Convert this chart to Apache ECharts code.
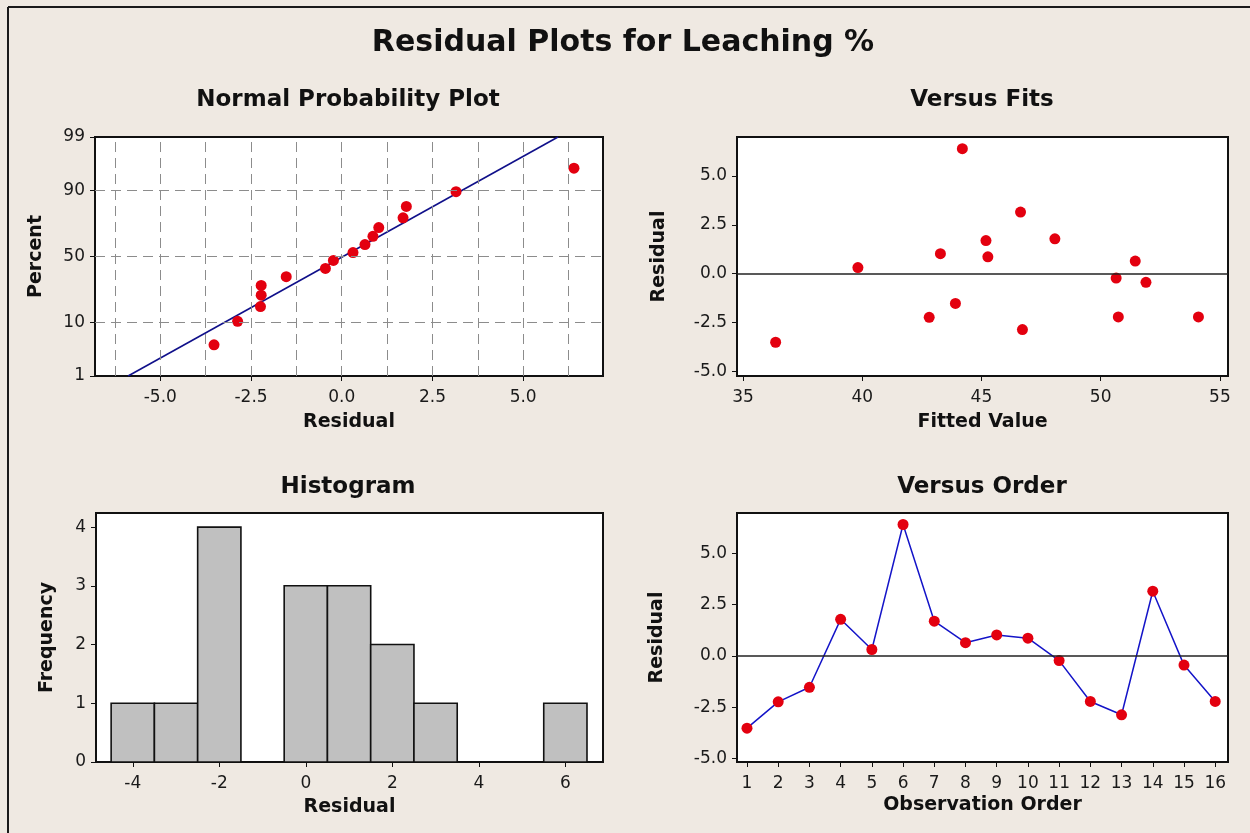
<!DOCTYPE html>
<html>
<head>
<meta charset="utf-8">
<script src="https://cdn.jsdelivr.net/npm/echarts@6/dist/echarts.min.js"></script>
<style>
  html, body { margin: 0; padding: 0; background: #EFE9E2; }
  #chart { width: 1250px; height: 833px; }
</style>
</head>
<body>
<div id="chart"></div>
<script>
// Residuals of the 16 runs, listed in observation order
const observationOrder = [1, 2, 3, 4, 5, 6, 7, 8, 9, 10, 11, 12, 13, 14, 15, 16];
const residuals = [-3.52, -2.24, -1.53, 1.78, 0.31, 6.40, 1.69, 0.64, 1.02, 0.86, -0.23, -2.22, -2.87, 3.15, -0.45, -2.22];
const fittedValues = [36.37, 42.81, 43.91, 48.08, 39.82, 44.20, 45.19, 51.45, 43.28, 45.27, 50.65, 50.74, 46.72, 46.64, 51.90, 54.10];

// Histogram: bin centres (width 1) and frequencies
const histBinCentres = [-4, -3, -2, -1, 0, 1, 2, 3, 4, 5, 6];
const histCounts = [1, 1, 4, 0, 3, 3, 2, 1, 0, 0, 1];

// Tick values
const percentTicks = [1, 10, 50, 90, 99];
const percentGrid = [10, 50, 90];
const npResidualTicks = [-5, -2.5, 0, 2.5, 5];
const npResidualGrid = [-6.25, -5, -3.75, -2.5, -1.25, 0, 1.25, 2.5, 3.75, 5, 6.25];
const fittedTicks = [35, 40, 45, 50, 55];
const residualTicks = [-5, -2.5, 0, 2.5, 5];
const histResidualTicks = [-4, -2, 0, 2, 4, 6];
const frequencyTicks = [0, 1, 2, 3, 4];
const orderTicks = observationOrder;

// Inverse standard normal CDF (Acklam's rational approximation)
function probit(p) {
  const a = [-3.969683028665376e+01, 2.209460984245205e+02, -2.759285104469687e+02, 1.383577518672690e+02, -3.066479806614716e+01, 2.506628277459239e+00];
  const b = [-5.447609879822406e+01, 1.615858368580409e+02, -1.556989798598866e+02, 6.680131188771972e+01, -1.328068155288572e+01];
  const c = [-7.784894002430293e-03, -3.223964580411365e-01, -2.400758277161838e+00, -2.549732539343734e+00, 4.374664141464968e+00, 2.938163982698783e+00];
  const d = [7.784695709041462e-03, 3.224671290700398e-01, 2.445134137142996e+00, 3.754408661907416e+00];
  const pl = 0.02425, ph = 1 - pl;
  let q, r;
  if (p < pl) {
    q = Math.sqrt(-2 * Math.log(p));
    return (((((c[0]*q + c[1])*q + c[2])*q + c[3])*q + c[4])*q + c[5]) / ((((d[0]*q + d[1])*q + d[2])*q + d[3])*q + 1);
  }
  if (p <= ph) {
    q = p - 0.5; r = q * q;
    return (((((a[0]*r + a[1])*r + a[2])*r + a[3])*r + a[4])*r + a[5])*q / (((((b[0]*r + b[1])*r + b[2])*r + b[3])*r + b[4])*r + 1);
  }
  q = Math.sqrt(-2 * Math.log(1 - p));
  return -(((((c[0]*q + c[1])*q + c[2])*q + c[3])*q + c[4])*q + c[5]) / ((((d[0]*q + d[1])*q + d[2])*q + d[3])*q + 1);
}

// Normal probability plot: sorted residuals against median-rank scores
const n = residuals.length;
const sortedResiduals = residuals.slice().sort((x, y) => x - y);
const npPoints = sortedResiduals.map((r, i) => [r, probit((i + 1 - 0.3) / (n + 0.4))]);
const mean = residuals.reduce((s, v) => s + v, 0) / n;
const sd = Math.sqrt(residuals.reduce((s, v) => s + (v - mean) * (v - mean), 0) / (n - 1));
const zLow = probit(0.01), zHigh = probit(0.99);
const npLine = [[mean + sd * zLow, zLow], [mean + sd * zHigh, zHigh]];

const FONT = 'DejaVu Sans';
const RED = '#E3000F';
const axisNameStyle = { color: '#111', fontFamily: FONT, fontSize: 19, fontWeight: 'bold' };

function valueAxis(opts) {
  return Object.assign({
    type: 'value',
    nameLocation: 'middle',
    nameTextStyle: axisNameStyle,
    axisLine: { show: false, onZero: false },
    axisTick: { show: true, inside: false, length: 5, lineStyle: { color: '#111', width: 1 }, customValues: opts.ticks },
    axisLabel: {
      color: '#1a1a1a', fontFamily: FONT, fontSize: 17, margin: opts.margin,
      customValues: opts.ticks, formatter: opts.fmt, showMinLabel: true, showMaxLabel: true
    },
    splitLine: { show: false }
  }, opts.extra);
}

const grids = [
  { left: 95, top: 137, width: 508, height: 239 },
  { left: 737, top: 137, width: 491, height: 239 },
  { left: 96, top: 513, width: 507, height: 249 },
  { left: 737, top: 513, width: 491, height: 249 }
].map(g => Object.assign(g, {
  show: true, backgroundColor: '#FFFFFF', borderColor: '#111', borderWidth: 2,
  containLabel: false, outerBoundsMode: 'none'
}));

const fmt1 = v => v.toFixed(1);
const fmt0 = v => String(Math.round(v));
const fmtPct = v => {
  const p = percentTicks.find(t => Math.abs(probit(t / 100) - v) < 1e-6);
  return p === undefined ? '' : String(p);
};

const XM = 13, YM = 10;

const option = {
  backgroundColor: '#EFE9E2',
  animation: false,
  grid: grids,
  xAxis: [
    valueAxis({ ticks: npResidualTicks, fmt: fmt1, margin: XM, extra: { gridIndex: 0, min: -6.8, max: 7.2, name: 'Residual', nameGap: 37 } }),
    valueAxis({ ticks: fittedTicks, fmt: fmt0, margin: XM, extra: { gridIndex: 1, min: 34.75, max: 55.34, name: 'Fitted Value', nameGap: 37 } }),
    valueAxis({ ticks: histResidualTicks, fmt: fmt0, margin: XM, extra: { gridIndex: 2, min: -4.85, max: 6.87, name: 'Residual', nameGap: 36 } }),
    valueAxis({ ticks: orderTicks, fmt: fmt0, margin: XM, extra: { gridIndex: 3, min: 0.68, max: 16.41, name: 'Observation Order', nameGap: 34 } })
  ],
  yAxis: [
    valueAxis({ ticks: percentTicks.map(p => probit(p / 100)), fmt: fmtPct, margin: YM, extra: { gridIndex: 0, min: zLow, max: zHigh, name: 'Percent', nameGap: 49 } }),
    valueAxis({ ticks: residualTicks, fmt: fmt1, margin: YM, extra: { gridIndex: 1, min: -5.25, max: 7.0, name: 'Residual', nameGap: 68 } }),
    valueAxis({ ticks: frequencyTicks, fmt: fmt0, margin: YM, extra: { gridIndex: 2, min: 0, max: 4.24, name: 'Frequency', nameGap: 39 } }),
    valueAxis({ ticks: residualTicks, fmt: fmt1, margin: YM, extra: { gridIndex: 3, min: -5.17, max: 6.96, name: 'Residual', nameGap: 70 } })
  ],
  series: [
    // Normal probability plot: dashed reference grid and fitted normal line
    {
      type: 'line', xAxisIndex: 0, yAxisIndex: 0, data: npLine, symbol: 'none', z: 2,
      lineStyle: { color: '#10108A', width: 1.6 },
      markLine: {
        silent: true, symbol: 'none', label: { show: false }, animation: false,
        lineStyle: { color: '#8C8C8C', width: 1, type: [10, 6] },
        data: npResidualGrid.map(v => ({ xAxis: v })).concat(percentGrid.map(p => ({ yAxis: probit(p / 100) })))
      }
    },
    {
      type: 'scatter', xAxisIndex: 0, yAxisIndex: 0, data: npPoints, z: 3,
      symbol: 'circle', symbolSize: 11, itemStyle: { color: RED, opacity: 1 }
    },
    // Versus fits
    {
      type: 'scatter', xAxisIndex: 1, yAxisIndex: 1, z: 3,
      data: fittedValues.map((f, i) => [f, residuals[i]]),
      symbol: 'circle', symbolSize: 11, itemStyle: { color: RED, opacity: 1 },
      markLine: {
        silent: true, symbol: 'none', label: { show: false }, animation: false,
        lineStyle: { color: '#222', width: 1.5, type: 'solid' }, data: [{ yAxis: 0 }]
      }
    },
    // Histogram of residuals
    {
      type: 'custom', xAxisIndex: 2, yAxisIndex: 2,
      data: histBinCentres.map((c, i) => [c, histCounts[i]]),
      encode: { x: 0, y: 1 },
      renderItem(params, api) {
        const c = api.value(0), cnt = api.value(1);
        const p0 = api.coord([c - 0.5, cnt]);
        const p1 = api.coord([c + 0.5, 0]);
        return {
          type: 'rect',
          shape: { x: p0[0], y: p0[1], width: p1[0] - p0[0], height: p1[1] - p0[1] },
          style: { fill: '#C0C0C0', stroke: '#111', lineWidth: 1.6 }
        };
      }
    },
    // Versus order
    {
      type: 'line', xAxisIndex: 3, yAxisIndex: 3, z: 3,
      data: observationOrder.map((o, i) => [o, residuals[i]]),
      symbol: 'circle', symbolSize: 11, showAllSymbol: true,
      lineStyle: { color: '#1414C8', width: 1.5 },
      itemStyle: { color: RED, opacity: 1 },
      markLine: {
        silent: true, symbol: 'none', label: { show: false }, animation: false,
        lineStyle: { color: '#222', width: 1.5, type: 'solid' }, data: [{ yAxis: 0 }]
      }
    }
  ],
  graphic: [
    { type: 'line', shape: { x1: 8, y1: 7, x2: 1250, y2: 7 }, style: { stroke: '#1a1a1a', lineWidth: 2 } },
    { type: 'line', shape: { x1: 8, y1: 7, x2: 8, y2: 833 }, style: { stroke: '#1a1a1a', lineWidth: 2 } },
    { type: 'text', x: 623, y: 43, style: { text: 'Residual Plots for Leaching %', font: 'bold 30px "DejaVu Sans"', fill: '#111', textAlign: 'center', textVerticalAlign: 'middle' } },
    { type: 'text', x: 348, y: 100, style: { text: 'Normal Probability Plot', font: 'bold 23px "DejaVu Sans"', fill: '#111', textAlign: 'center', textVerticalAlign: 'middle' } },
    { type: 'text', x: 982, y: 100, style: { text: 'Versus Fits', font: 'bold 23px "DejaVu Sans"', fill: '#111', textAlign: 'center', textVerticalAlign: 'middle' } },
    { type: 'text', x: 348, y: 487, style: { text: 'Histogram', font: 'bold 23px "DejaVu Sans"', fill: '#111', textAlign: 'center', textVerticalAlign: 'middle' } },
    { type: 'text', x: 982, y: 487, style: { text: 'Versus Order', font: 'bold 23px "DejaVu Sans"', fill: '#111', textAlign: 'center', textVerticalAlign: 'middle' } }
  ]
};

const chart = echarts.init(document.getElementById('chart'), null, { renderer: 'canvas' });
chart.setOption(option);
</script>
</body>
</html>
